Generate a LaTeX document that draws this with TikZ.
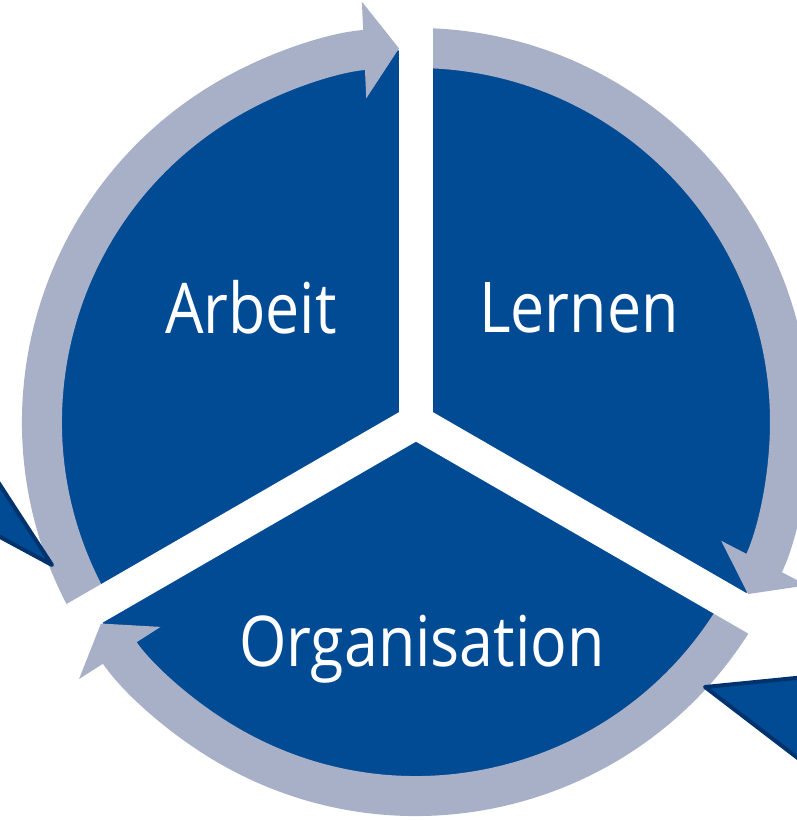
\documentclass[tikz,border=0pt]{standalone}
\usepackage{fontspec}
\setsansfont{Open Sans}[FakeStretch=0.87]
\usetikzlibrary{arrows.meta}
\definecolor{cycleblue}{RGB}{0,75,148}
\definecolor{cyclering}{RGB}{168,176,200}
\definecolor{cyclenavy}{RGB}{0,50,110}

\begin{document}
\begin{tikzpicture}[
  x=1pt, y=1pt,
  ringarc/.style={draw=cyclering, line width=40pt, -{Triangle[length=35pt,width=95pt]}},
  cutband/.style={draw=white, line width=34pt},
  segtext/.style={text=white, font=\sffamily\fontsize{70}{80}\selectfont, anchor=base, inner sep=0pt},
  pointer/.style={fill=cycleblue, draw=cyclenavy, line width=4pt, line join=round},
]
\clip (-416,-398) rectangle (381,422);
\fill[cycleblue] (0,0) circle (372pt);
\foreach \s [evaluate=\s as \e using \s-117.4] in {210,90,330}
  \draw[ringarc] (\s:374pt) arc[start angle=\s, end angle=\e, radius=374pt];
\foreach \a in {90,210,330}
  \draw[cutband] (0,0) -- (\a:425pt);
\node[segtext] (arbeit) at (-165,89) {Arbeit};
\node[segtext] (lernen) at (163,90) {Lernen};
\node[segtext] (organisation) at (6,-244) {Organisation};
\filldraw[pointer] (-440,-26) -- (-364,-143) -- (-440,-102) -- cycle;
\filldraw[pointer] (400,-254) -- (289,-265) -- (400,-350) -- cycle;
\end{tikzpicture}
\end{document}
